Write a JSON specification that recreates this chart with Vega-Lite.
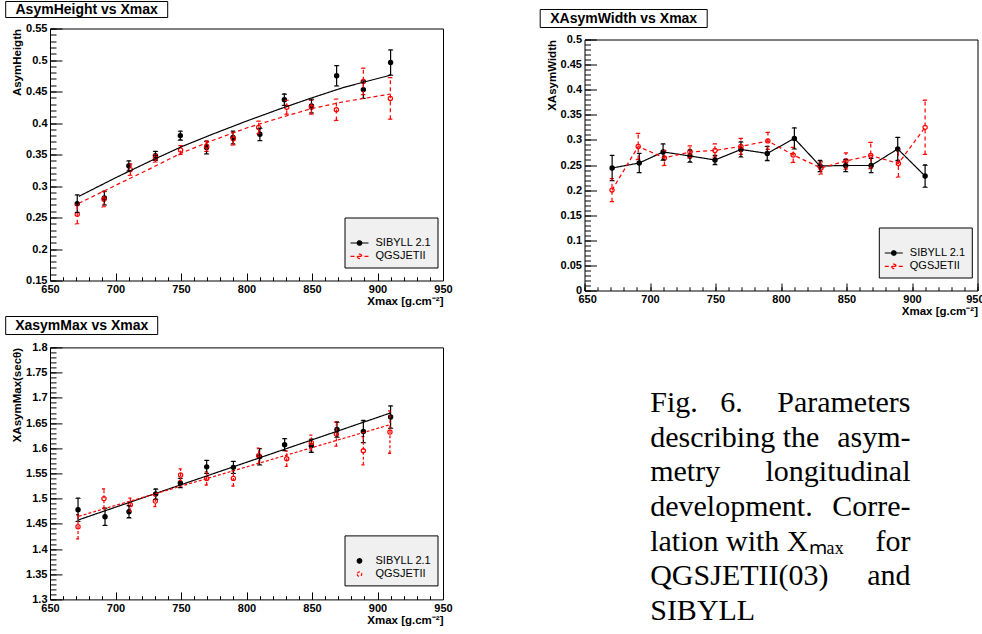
{
  "$schema": "https://vega.github.io/schema/vega-lite/v6.json",
  "background": "white",
  "padding": {"left": 5, "top": 0.5, "right": 0, "bottom": 0},
  "config": {
    "view": {"stroke": "black", "strokeWidth": 1},
    "axis": {"domain": false, "grid": false, "labelFont": "Liberation Sans", "labelFontSize": 11, "labelFontWeight": "bold", "labelColor": "black", "titleFont": "Liberation Sans", "titleFontSize": 11.5, "titleFontWeight": "bold", "titleColor": "black", "tickColor": "black", "tickWidth": 1, "labelOverlap": false, "labelFlush": false},
    "legend": {"fillColor": "#f0f0f0", "strokeColor": "black", "strokeWidth": 1, "padding": 6, "cornerRadius": 0, "titleFont": "Liberation Sans", "titleFontSize": 12, "titlePadding": 1.5, "labelFont": "Liberation Sans", "labelFontSize": 11, "labelColor": "black", "symbolSize": 100, "symbolStrokeWidth": 1.2, "symbolOffset": 3, "labelOffset": 10, "rowPadding": 2.3}
  },
  "datasets": {
    "p1pts": [
      {"xmax": 670.8, "model": "SIBYLL 2.1", "val": 0.272, "err": 0.014},
      {"xmax": 691.5, "model": "SIBYLL 2.1", "val": 0.281, "err": 0.011},
      {"xmax": 710.2, "model": "SIBYLL 2.1", "val": 0.332, "err": 0.008},
      {"xmax": 730.5, "model": "SIBYLL 2.1", "val": 0.348, "err": 0.007},
      {"xmax": 749.5, "model": "SIBYLL 2.1", "val": 0.380, "err": 0.007},
      {"xmax": 769.5, "model": "SIBYLL 2.1", "val": 0.361, "err": 0.010},
      {"xmax": 789.7, "model": "SIBYLL 2.1", "val": 0.377, "err": 0.010},
      {"xmax": 810.2, "model": "SIBYLL 2.1", "val": 0.382, "err": 0.010},
      {"xmax": 828.9, "model": "SIBYLL 2.1", "val": 0.437, "err": 0.009},
      {"xmax": 849.6, "model": "SIBYLL 2.1", "val": 0.427, "err": 0.011},
      {"xmax": 868.8, "model": "SIBYLL 2.1", "val": 0.475, "err": 0.016},
      {"xmax": 889.2, "model": "SIBYLL 2.1", "val": 0.453, "err": 0.014},
      {"xmax": 910.0, "model": "SIBYLL 2.1", "val": 0.496, "err": 0.020},
      {"xmax": 670.8, "model": "QGSJETII", "val": 0.255, "err": 0.015},
      {"xmax": 691.2, "model": "QGSJETII", "val": 0.279, "err": 0.012},
      {"xmax": 711.3, "model": "QGSJETII", "val": 0.326, "err": 0.009},
      {"xmax": 730.5, "model": "QGSJETII", "val": 0.344, "err": 0.006},
      {"xmax": 749.7, "model": "QGSJETII", "val": 0.357, "err": 0.007},
      {"xmax": 769.6, "model": "QGSJETII", "val": 0.363, "err": 0.008},
      {"xmax": 790.0, "model": "QGSJETII", "val": 0.375, "err": 0.010},
      {"xmax": 809.3, "model": "QGSJETII", "val": 0.393, "err": 0.010},
      {"xmax": 830.7, "model": "QGSJETII", "val": 0.425, "err": 0.011},
      {"xmax": 849.6, "model": "QGSJETII", "val": 0.425, "err": 0.011},
      {"xmax": 868.6, "model": "QGSJETII", "val": 0.421, "err": 0.017},
      {"xmax": 889.2, "model": "QGSJETII", "val": 0.466, "err": 0.021},
      {"xmax": 909.8, "model": "QGSJETII", "val": 0.439, "err": 0.033}
    ],
    "p1fit": [
      {"xmax": 672, "model": "SIBYLL 2.1", "fit": 0.2835},
      {"xmax": 700, "model": "SIBYLL 2.1", "fit": 0.313},
      {"xmax": 725, "model": "SIBYLL 2.1", "fit": 0.338},
      {"xmax": 750, "model": "SIBYLL 2.1", "fit": 0.362},
      {"xmax": 775, "model": "SIBYLL 2.1", "fit": 0.383},
      {"xmax": 800, "model": "SIBYLL 2.1", "fit": 0.403},
      {"xmax": 825, "model": "SIBYLL 2.1", "fit": 0.422},
      {"xmax": 850, "model": "SIBYLL 2.1", "fit": 0.440},
      {"xmax": 875, "model": "SIBYLL 2.1", "fit": 0.457},
      {"xmax": 910, "model": "SIBYLL 2.1", "fit": 0.476},
      {"xmax": 672, "model": "QGSJETII", "fit": 0.2725},
      {"xmax": 700, "model": "QGSJETII", "fit": 0.301},
      {"xmax": 725, "model": "QGSJETII", "fit": 0.326},
      {"xmax": 750, "model": "QGSJETII", "fit": 0.352},
      {"xmax": 775, "model": "QGSJETII", "fit": 0.373},
      {"xmax": 800, "model": "QGSJETII", "fit": 0.392},
      {"xmax": 825, "model": "QGSJETII", "fit": 0.408},
      {"xmax": 850, "model": "QGSJETII", "fit": 0.423},
      {"xmax": 875, "model": "QGSJETII", "fit": 0.434},
      {"xmax": 910, "model": "QGSJETII", "fit": 0.446}
    ],
    "p2pts": [
      {"xmax": 671.1, "model": "SIBYLL 2.1", "val": 0.244, "err": 0.025},
      {"xmax": 691.8, "model": "SIBYLL 2.1", "val": 0.254, "err": 0.019},
      {"xmax": 710.0, "model": "SIBYLL 2.1", "val": 0.276, "err": 0.016},
      {"xmax": 730.5, "model": "SIBYLL 2.1", "val": 0.268, "err": 0.012},
      {"xmax": 749.6, "model": "SIBYLL 2.1", "val": 0.260, "err": 0.009},
      {"xmax": 769.4, "model": "SIBYLL 2.1", "val": 0.281, "err": 0.015},
      {"xmax": 789.5, "model": "SIBYLL 2.1", "val": 0.273, "err": 0.014},
      {"xmax": 810.2, "model": "SIBYLL 2.1", "val": 0.303, "err": 0.021},
      {"xmax": 829.8, "model": "SIBYLL 2.1", "val": 0.248, "err": 0.011},
      {"xmax": 849.4, "model": "SIBYLL 2.1", "val": 0.249, "err": 0.012},
      {"xmax": 868.8, "model": "SIBYLL 2.1", "val": 0.249, "err": 0.014},
      {"xmax": 889.1, "model": "SIBYLL 2.1", "val": 0.282, "err": 0.023},
      {"xmax": 910.0, "model": "SIBYLL 2.1", "val": 0.228, "err": 0.022},
      {"xmax": 671.0, "model": "QGSJETII", "val": 0.200, "err": 0.023},
      {"xmax": 691.0, "model": "QGSJETII", "val": 0.287, "err": 0.026},
      {"xmax": 711.0, "model": "QGSJETII", "val": 0.264, "err": 0.015},
      {"xmax": 730.5, "model": "QGSJETII", "val": 0.276, "err": 0.012},
      {"xmax": 749.6, "model": "QGSJETII", "val": 0.279, "err": 0.013},
      {"xmax": 769.4, "model": "QGSJETII", "val": 0.287, "err": 0.016},
      {"xmax": 790.0, "model": "QGSJETII", "val": 0.298, "err": 0.017},
      {"xmax": 809.3, "model": "QGSJETII", "val": 0.270, "err": 0.015},
      {"xmax": 830.5, "model": "QGSJETII", "val": 0.244, "err": 0.012},
      {"xmax": 849.6, "model": "QGSJETII", "val": 0.258, "err": 0.016},
      {"xmax": 868.5, "model": "QGSJETII", "val": 0.269, "err": 0.026},
      {"xmax": 889.6, "model": "QGSJETII", "val": 0.253, "err": 0.027},
      {"xmax": 910.0, "model": "QGSJETII", "val": 0.325, "err": 0.054}
    ],
    "p3pts": [
      {"xmax": 671.4, "model": "SIBYLL 2.1", "val": 1.478, "err": 0.023},
      {"xmax": 692.0, "model": "SIBYLL 2.1", "val": 1.464, "err": 0.017},
      {"xmax": 710.3, "model": "SIBYLL 2.1", "val": 1.474, "err": 0.012},
      {"xmax": 730.7, "model": "SIBYLL 2.1", "val": 1.509, "err": 0.010},
      {"xmax": 749.5, "model": "SIBYLL 2.1", "val": 1.531, "err": 0.009},
      {"xmax": 769.6, "model": "SIBYLL 2.1", "val": 1.563, "err": 0.013},
      {"xmax": 790.0, "model": "SIBYLL 2.1", "val": 1.562, "err": 0.012},
      {"xmax": 810.0, "model": "SIBYLL 2.1", "val": 1.583, "err": 0.016},
      {"xmax": 829.1, "model": "SIBYLL 2.1", "val": 1.607, "err": 0.012},
      {"xmax": 849.5, "model": "SIBYLL 2.1", "val": 1.605, "err": 0.013},
      {"xmax": 869.1, "model": "SIBYLL 2.1", "val": 1.637, "err": 0.015},
      {"xmax": 889.2, "model": "SIBYLL 2.1", "val": 1.633, "err": 0.022},
      {"xmax": 910.0, "model": "SIBYLL 2.1", "val": 1.662, "err": 0.022},
      {"xmax": 671.4, "model": "QGSJETII", "val": 1.444, "err": 0.024},
      {"xmax": 691.2, "model": "QGSJETII", "val": 1.500, "err": 0.019},
      {"xmax": 711.3, "model": "QGSJETII", "val": 1.488, "err": 0.013},
      {"xmax": 730.4, "model": "QGSJETII", "val": 1.495, "err": 0.011},
      {"xmax": 749.7, "model": "QGSJETII", "val": 1.547, "err": 0.012},
      {"xmax": 769.6, "model": "QGSJETII", "val": 1.540, "err": 0.013},
      {"xmax": 790.0, "model": "QGSJETII", "val": 1.540, "err": 0.015},
      {"xmax": 809.3, "model": "QGSJETII", "val": 1.585, "err": 0.015},
      {"xmax": 830.7, "model": "QGSJETII", "val": 1.579, "err": 0.015},
      {"xmax": 849.5, "model": "QGSJETII", "val": 1.611, "err": 0.015},
      {"xmax": 868.6, "model": "QGSJETII", "val": 1.628, "err": 0.024},
      {"xmax": 889.2, "model": "QGSJETII", "val": 1.595, "err": 0.028},
      {"xmax": 909.5, "model": "QGSJETII", "val": 1.632, "err": 0.042}
    ],
    "p3fit": [
      {"xmax": 672, "model": "SIBYLL 2.1", "fit": 1.458},
      {"xmax": 910, "model": "SIBYLL 2.1", "fit": 1.670},
      {"xmax": 672, "model": "QGSJETII", "fit": 1.465},
      {"xmax": 910, "model": "QGSJETII", "fit": 1.647}
    ],
    "caption": [
      {"line": 1, "left": "Fig.\u00a0\u00a0\u00a06.", "right": "Parameters"},
      {"line": 2, "left": "describing the", "right": "asym-"},
      {"line": 3, "left": "metry", "right": "longitudinal"},
      {"line": 4, "left": "development.", "right": "Corre-"},
      {"line": 5, "left": "lation with Xₘₐₓ", "right": "for"},
      {"line": 6, "left": "QGSJETII(03)", "right": "and"},
      {"line": 7, "left": "SIBYLL", "right": ""}
    ]
  },
  "spacing": 86.5,
  "align": "each",
  "resolve": {"scale": {"x": "independent", "y": "independent", "stroke": "independent", "fill": "independent", "strokeDash": "independent"}, "legend": {"stroke": "independent", "fill": "independent", "strokeDash": "independent"}},
  "hconcat": [
    {
      "spacing": 8,
      "resolve": {"scale": {"x": "independent", "y": "independent", "stroke": "independent", "fill": "independent", "strokeDash": "independent"}, "legend": {"stroke": "independent", "fill": "independent", "strokeDash": "independent"}},
      "vconcat": [
        {
          "spacing": 3,
          "resolve": {"scale": {"x": "independent", "y": "independent", "stroke": "independent", "fill": "independent", "strokeDash": "independent"}, "legend": {"stroke": "independent", "fill": "independent", "strokeDash": "independent"}},
          "vconcat": [
            {
              "width": 117.7, "height": 16,
              "view": {"stroke": null},
              "data": {"values": [{"t": "AsymHeight vs Xmax"}]},
              "layer": [
                {
                  "mark": {"type": "rect", "fill": "white", "stroke": "black", "strokeWidth": 1},
                  "encoding": {
                    "x": {"datum": 0, "type": "quantitative", "scale": {"domain": [0, 1], "range": [-44.3, 117.7], "nice": false, "zero": false}, "axis": null},
                    "x2": {"datum": 1},
                    "y": {"datum": 0, "type": "quantitative", "scale": {"domain": [0, 1], "nice": false, "zero": false}, "axis": null},
                    "y2": {"datum": 1}
                  }
                },
                {
                  "mark": {"type": "text", "font": "Liberation Sans", "fontWeight": "bold", "fontSize": 14, "color": "black"},
                  "encoding": {
                    "x": {"datum": 0.5, "type": "quantitative"},
                    "y": {"datum": 0.5, "type": "quantitative"},
                    "text": {"field": "t"}
                  }
                }
              ]
            },
            {
              "width": 393, "height": 252,
              "resolve": {"axis": {"x": "independent", "y": "independent"}},
              "layer": [
                {
                  "data": {"name": "p1pts"},
                  "mark": {"type": "point", "shape": "circle", "filled": false, "size": 18, "strokeWidth": 1.2, "opacity": 1},
                  "encoding": {
                    "x": {"field": "xmax", "type": "quantitative", "scale": {"domain": [650, 950], "nice": false, "zero": false}, "axis": {"orient": "bottom", "values": [650, 700, 750, 800, 850, 900, 950], "ticks": false, "tickSize": 0, "labelPadding": 3, "title": "Xmax [g.cm⁻²]", "titleAnchor": "end", "titlePadding": 1}},
                    "y": {"field": "val", "type": "quantitative", "scale": {"domain": [0.15, 0.55], "nice": false, "zero": false}, "axis": {"orient": "left", "values": [0.15, 0.2, 0.25, 0.3, 0.35, 0.4, 0.45, 0.5, 0.55], "format": "~g", "ticks": false, "tickSize": 0, "labelPadding": 3, "title": "AsymHeigth", "titleAnchor": "end", "titlePadding": 3}},
                    "stroke": {"field": "model", "type": "nominal", "title": " ", "scale": {"domain": ["SIBYLL 2.1", "QGSJETII"], "range": ["black", "red"]}, "legend": {"orient": "none", "legendX": 294.5, "legendY": 189, "symbolType": "M-1.8,0L1.8,0M-0.45,0A0.45,0.45,0,1,0,0.45,0A0.45,0.45,0,1,0,-0.45,0Z"}},
                    "fill": {"field": "model", "type": "nominal", "title": " ", "scale": {"domain": ["SIBYLL 2.1", "QGSJETII"], "range": ["black", "transparent"]}, "legend": {"orient": "none", "legendX": 294.5, "legendY": 189, "symbolType": "M-1.8,0L1.8,0M-0.45,0A0.45,0.45,0,1,0,0.45,0A0.45,0.45,0,1,0,-0.45,0Z"}}
                  }
                },
                {
                  "data": {"name": "p1pts"},
                  "mark": {"type": "errorbar", "thickness": 1.2, "ticks": {"size": 4, "thickness": 0.1, "filled": false, "strokeWidth": 1.2, "opacity": 1}},
                  "encoding": {
                    "x": {"field": "xmax", "type": "quantitative", "scale": {"domain": [650, 950], "nice": false, "zero": false}, "axis": {"orient": "bottom", "values": [650, 660, 670, 680, 690, 700, 710, 720, 730, 740, 750, 760, 770, 780, 790, 800, 810, 820, 830, 840, 850, 860, 870, 880, 890, 900, 910, 920, 930, 940, 950], "labels": false, "tickSize": -3.75, "title": null}},
                    "y": {"field": "val", "type": "quantitative", "scale": {"domain": [0.15, 0.55], "nice": false, "zero": false}, "axis": {"orient": "left", "values": [0.15, 0.16, 0.17, 0.18, 0.19, 0.2, 0.21, 0.22, 0.23, 0.24, 0.25, 0.26, 0.27, 0.28, 0.29, 0.3, 0.31, 0.32, 0.33, 0.34, 0.35, 0.36, 0.37, 0.38, 0.39, 0.4, 0.41, 0.42, 0.43, 0.44, 0.45, 0.46, 0.47, 0.48, 0.49, 0.5, 0.51, 0.52, 0.53, 0.54, 0.55], "labels": false, "tickSize": -6, "title": null}},
                    "yError": {"field": "err"},
                    "stroke": {"field": "model", "type": "nominal", "title": " ", "scale": {"domain": ["SIBYLL 2.1", "QGSJETII"], "range": ["black", "red"]}, "legend": {"orient": "none", "legendX": 294.5, "legendY": 189, "symbolType": "M-1.8,0L1.8,0M-0.45,0A0.45,0.45,0,1,0,0.45,0A0.45,0.45,0,1,0,-0.45,0Z"}},
                    "strokeDash": {"field": "model", "type": "nominal", "title": " ", "scale": {"domain": ["SIBYLL 2.1", "QGSJETII"], "range": [[1, 0], [4, 3]]}, "legend": {"orient": "none", "legendX": 294.5, "legendY": 189, "symbolType": "M-1.8,0L1.8,0M-0.45,0A0.45,0.45,0,1,0,0.45,0A0.45,0.45,0,1,0,-0.45,0Z"}}
                  }
                },
                {
                  "data": {"name": "p1fit"},
                  "mark": {"type": "line", "strokeWidth": 1.2},
                  "encoding": {
                    "x": {"field": "xmax", "type": "quantitative", "scale": {"domain": [650, 950], "nice": false, "zero": false}, "axis": {"orient": "bottom", "values": [650, 700, 750, 800, 850, 900, 950], "labels": false, "tickSize": -7.5, "title": null}},
                    "y": {"field": "fit", "type": "quantitative", "scale": {"domain": [0.15, 0.55], "nice": false, "zero": false}, "axis": {"orient": "left", "values": [0.15, 0.2, 0.25, 0.3, 0.35, 0.4, 0.45, 0.5, 0.55], "labels": false, "tickSize": -12, "title": null}},
                    "stroke": {"field": "model", "type": "nominal", "title": " ", "scale": {"domain": ["SIBYLL 2.1", "QGSJETII"], "range": ["black", "red"]}, "legend": {"orient": "none", "legendX": 294.5, "legendY": 189, "symbolType": "M-1.8,0L1.8,0M-0.45,0A0.45,0.45,0,1,0,0.45,0A0.45,0.45,0,1,0,-0.45,0Z"}},
                    "strokeDash": {"field": "model", "type": "nominal", "title": " ", "scale": {"domain": ["SIBYLL 2.1", "QGSJETII"], "range": [[1, 0], [4, 3]]}, "legend": {"orient": "none", "legendX": 294.5, "legendY": 189, "symbolType": "M-1.8,0L1.8,0M-0.45,0A0.45,0.45,0,1,0,0.45,0A0.45,0.45,0,1,0,-0.45,0Z"}}
                  }
                }
              ]
            }
          ]
        },
        {
          "spacing": 4.9,
          "resolve": {"scale": {"x": "independent", "y": "independent", "stroke": "independent", "fill": "independent", "strokeDash": "independent"}, "legend": {"stroke": "independent", "fill": "independent", "strokeDash": "independent"}},
          "vconcat": [
            {
              "width": 107.7, "height": 18,
              "view": {"stroke": null},
              "data": {"values": [{"t": "XasymMax vs Xmax"}]},
              "layer": [
                {
                  "mark": {"type": "rect", "fill": "white", "stroke": "black", "strokeWidth": 1},
                  "encoding": {
                    "x": {"datum": 0, "type": "quantitative", "scale": {"domain": [0, 1], "range": [-44.3, 107.7], "nice": false, "zero": false}, "axis": null},
                    "x2": {"datum": 1},
                    "y": {"datum": 0, "type": "quantitative", "scale": {"domain": [0, 1], "nice": false, "zero": false}, "axis": null},
                    "y2": {"datum": 1}
                  }
                },
                {
                  "mark": {"type": "text", "font": "Liberation Sans", "fontWeight": "bold", "fontSize": 14, "color": "black"},
                  "encoding": {
                    "x": {"datum": 0.5, "type": "quantitative"},
                    "y": {"datum": 0.5, "type": "quantitative"},
                    "text": {"field": "t"}
                  }
                }
              ]
            },
            {
              "width": 393, "height": 252,
              "resolve": {"axis": {"x": "independent", "y": "independent"}},
              "layer": [
                {
                  "data": {"name": "p3pts"},
                  "mark": {"type": "point", "shape": "circle", "filled": false, "size": 18, "strokeWidth": 1.2, "opacity": 1},
                  "encoding": {
                    "x": {"field": "xmax", "type": "quantitative", "scale": {"domain": [650, 950], "nice": false, "zero": false}, "axis": {"orient": "bottom", "values": [650, 700, 750, 800, 850, 900, 950], "ticks": false, "tickSize": 0, "labelPadding": 3, "title": "Xmax [g.cm⁻²]", "titleAnchor": "end", "titlePadding": 1}},
                    "y": {"field": "val", "type": "quantitative", "scale": {"domain": [1.3, 1.8], "nice": false, "zero": false}, "axis": {"orient": "left", "values": [1.3, 1.35, 1.4, 1.45, 1.5, 1.55, 1.6, 1.65, 1.7, 1.75, 1.8], "format": "~g", "ticks": false, "tickSize": 0, "labelPadding": 3, "title": "XAsymMax(secθ)", "titleAnchor": "end", "titlePadding": 3}},
                    "stroke": {"field": "model", "type": "nominal", "title": " ", "scale": {"domain": ["SIBYLL 2.1", "QGSJETII"], "range": ["black", "red"]}, "legend": {"orient": "none", "legendX": 294.5, "legendY": 188, "symbolType": "M-0.45,0A0.45,0.45,0,1,0,0.45,0A0.45,0.45,0,1,0,-0.45,0Z"}},
                    "fill": {"field": "model", "type": "nominal", "title": " ", "scale": {"domain": ["SIBYLL 2.1", "QGSJETII"], "range": ["black", "transparent"]}, "legend": {"orient": "none", "legendX": 294.5, "legendY": 188, "symbolType": "M-0.45,0A0.45,0.45,0,1,0,0.45,0A0.45,0.45,0,1,0,-0.45,0Z"}}
                  }
                },
                {
                  "data": {"name": "p3pts"},
                  "mark": {"type": "errorbar", "thickness": 1.2, "ticks": {"size": 4, "thickness": 0.1, "filled": false, "strokeWidth": 1.2, "opacity": 1}},
                  "encoding": {
                    "x": {"field": "xmax", "type": "quantitative", "scale": {"domain": [650, 950], "nice": false, "zero": false}, "axis": {"orient": "bottom", "values": [650, 660, 670, 680, 690, 700, 710, 720, 730, 740, 750, 760, 770, 780, 790, 800, 810, 820, 830, 840, 850, 860, 870, 880, 890, 900, 910, 920, 930, 940, 950], "labels": false, "tickSize": -3.75, "title": null}},
                    "y": {"field": "val", "type": "quantitative", "scale": {"domain": [1.3, 1.8], "nice": false, "zero": false}, "axis": {"orient": "left", "values": [1.3, 1.31, 1.32, 1.33, 1.34, 1.35, 1.36, 1.37, 1.38, 1.39, 1.4, 1.41, 1.42, 1.43, 1.44, 1.45, 1.46, 1.47, 1.48, 1.49, 1.5, 1.51, 1.52, 1.53, 1.54, 1.55, 1.56, 1.57, 1.58, 1.59, 1.6, 1.61, 1.62, 1.63, 1.64, 1.65, 1.66, 1.67, 1.68, 1.69, 1.7, 1.71, 1.72, 1.73, 1.74, 1.75, 1.76, 1.77, 1.78, 1.79, 1.8], "labels": false, "tickSize": -6, "title": null}},
                    "yError": {"field": "err"},
                    "stroke": {"field": "model", "type": "nominal", "title": " ", "scale": {"domain": ["SIBYLL 2.1", "QGSJETII"], "range": ["black", "red"]}, "legend": {"orient": "none", "legendX": 294.5, "legendY": 188, "symbolType": "M-0.45,0A0.45,0.45,0,1,0,0.45,0A0.45,0.45,0,1,0,-0.45,0Z"}},
                    "strokeDash": {"field": "model", "type": "nominal", "scale": {"domain": ["SIBYLL 2.1", "QGSJETII"], "range": [[1, 0], [3, 2]]}, "legend": null}
                  }
                },
                {
                  "data": {"name": "p3fit"},
                  "mark": {"type": "line", "strokeWidth": 1.2},
                  "encoding": {
                    "x": {"field": "xmax", "type": "quantitative", "scale": {"domain": [650, 950], "nice": false, "zero": false}, "axis": {"orient": "bottom", "values": [650, 700, 750, 800, 850, 900, 950], "labels": false, "tickSize": -7.5, "title": null}},
                    "y": {"field": "fit", "type": "quantitative", "scale": {"domain": [1.3, 1.8], "nice": false, "zero": false}, "axis": {"orient": "left", "values": [1.3, 1.35, 1.4, 1.45, 1.5, 1.55, 1.6, 1.65, 1.7, 1.75, 1.8], "labels": false, "tickSize": -12, "title": null}},
                    "stroke": {"field": "model", "type": "nominal", "title": " ", "scale": {"domain": ["SIBYLL 2.1", "QGSJETII"], "range": ["black", "red"]}, "legend": {"orient": "none", "legendX": 294.5, "legendY": 188, "symbolType": "M-0.45,0A0.45,0.45,0,1,0,0.45,0A0.45,0.45,0,1,0,-0.45,0Z"}},
                    "strokeDash": {"field": "model", "type": "nominal", "scale": {"domain": ["SIBYLL 2.1", "QGSJETII"], "range": [[1, 0], [3, 2]]}, "legend": null}
                  }
                }
              ]
            }
          ]
        }
      ]
    },
    {
      "spacing": 68,
      "resolve": {"scale": {"x": "independent", "y": "independent", "stroke": "independent", "fill": "independent", "strokeDash": "independent"}, "legend": {"stroke": "independent", "fill": "independent", "strokeDash": "independent"}},
      "vconcat": [
        {
          "spacing": 4,
          "resolve": {"scale": {"x": "independent", "y": "independent", "stroke": "independent", "fill": "independent", "strokeDash": "independent"}, "legend": {"stroke": "independent", "fill": "independent", "strokeDash": "independent"}},
          "vconcat": [
            {
              "width": 20, "height": 2.5,
              "view": {"stroke": null},
              "data": {"values": []},
              "mark": {"type": "text"},
              "encoding": {"text": {"field": "t"}}
            },
            {
              "width": 122.7, "height": 18,
              "view": {"stroke": null},
              "data": {"values": [{"t": "XAsymWidth vs Xmax"}]},
              "layer": [
                {
                  "mark": {"type": "rect", "fill": "white", "stroke": "black", "strokeWidth": 1},
                  "encoding": {
                    "x": {"datum": 0, "type": "quantitative", "scale": {"domain": [0, 1], "range": [-44.3, 122.7], "nice": false, "zero": false}, "axis": null},
                    "x2": {"datum": 1},
                    "y": {"datum": 0, "type": "quantitative", "scale": {"domain": [0, 1], "nice": false, "zero": false}, "axis": null},
                    "y2": {"datum": 1}
                  }
                },
                {
                  "mark": {"type": "text", "font": "Liberation Sans", "fontWeight": "bold", "fontSize": 14, "color": "black"},
                  "encoding": {
                    "x": {"datum": 0.5, "type": "quantitative"},
                    "y": {"datum": 0.5, "type": "quantitative"},
                    "text": {"field": "t"}
                  }
                }
              ]
            },
            {
              "width": 393, "height": 251,
              "resolve": {"axis": {"x": "independent", "y": "independent"}},
              "layer": [
                {
                  "data": {"name": "p2pts"},
                  "mark": {"type": "point", "shape": "circle", "filled": false, "size": 18, "strokeWidth": 1.2, "opacity": 1},
                  "encoding": {
                    "x": {"field": "xmax", "type": "quantitative", "scale": {"domain": [650, 950], "nice": false, "zero": false}, "axis": {"orient": "bottom", "values": [650, 700, 750, 800, 850, 900, 950], "ticks": false, "tickSize": 0, "labelPadding": 3, "labelFlush": true, "labelFlushOffset": 6.5, "title": "Xmax [g.cm⁻²]", "titleAnchor": "end", "titlePadding": 1}},
                    "y": {"field": "val", "type": "quantitative", "scale": {"domain": [0, 0.5], "nice": false, "zero": false}, "axis": {"orient": "left", "values": [0, 0.05, 0.1, 0.15, 0.2, 0.25, 0.3, 0.35, 0.4, 0.45, 0.5], "format": "~g", "ticks": false, "tickSize": 0, "labelPadding": 3, "title": "XAsymWidth", "titleAnchor": "end", "titlePadding": 3}},
                    "stroke": {"field": "model", "type": "nominal", "title": " ", "scale": {"domain": ["SIBYLL 2.1", "QGSJETII"], "range": ["black", "red"]}, "legend": {"orient": "none", "legendX": 294.3, "legendY": 188, "symbolType": "M-1.8,0L1.8,0M-0.45,0A0.45,0.45,0,1,0,0.45,0A0.45,0.45,0,1,0,-0.45,0Z"}},
                    "fill": {"field": "model", "type": "nominal", "title": " ", "scale": {"domain": ["SIBYLL 2.1", "QGSJETII"], "range": ["black", "transparent"]}, "legend": {"orient": "none", "legendX": 294.3, "legendY": 188, "symbolType": "M-1.8,0L1.8,0M-0.45,0A0.45,0.45,0,1,0,0.45,0A0.45,0.45,0,1,0,-0.45,0Z"}}
                  }
                },
                {
                  "data": {"name": "p2pts"},
                  "mark": {"type": "errorbar", "thickness": 1.2, "ticks": {"size": 4, "thickness": 0.1, "filled": false, "strokeWidth": 1.2, "opacity": 1}},
                  "encoding": {
                    "x": {"field": "xmax", "type": "quantitative", "scale": {"domain": [650, 950], "nice": false, "zero": false}, "axis": {"orient": "bottom", "values": [650, 660, 670, 680, 690, 700, 710, 720, 730, 740, 750, 760, 770, 780, 790, 800, 810, 820, 830, 840, 850, 860, 870, 880, 890, 900, 910, 920, 930, 940, 950], "labels": false, "tickSize": -3.75, "title": null}},
                    "y": {"field": "val", "type": "quantitative", "scale": {"domain": [0, 0.5], "nice": false, "zero": false}, "axis": {"orient": "left", "values": [0, 0.01, 0.02, 0.03, 0.04, 0.05, 0.06, 0.07, 0.08, 0.09, 0.1, 0.11, 0.12, 0.13, 0.14, 0.15, 0.16, 0.17, 0.18, 0.19, 0.2, 0.21, 0.22, 0.23, 0.24, 0.25, 0.26, 0.27, 0.28, 0.29, 0.3, 0.31, 0.32, 0.33, 0.34, 0.35, 0.36, 0.37, 0.38, 0.39, 0.4, 0.41, 0.42, 0.43, 0.44, 0.45, 0.46, 0.47, 0.48, 0.49, 0.5], "labels": false, "tickSize": -6, "title": null}},
                    "yError": {"field": "err"},
                    "stroke": {"field": "model", "type": "nominal", "title": " ", "scale": {"domain": ["SIBYLL 2.1", "QGSJETII"], "range": ["black", "red"]}, "legend": {"orient": "none", "legendX": 294.3, "legendY": 188, "symbolType": "M-1.8,0L1.8,0M-0.45,0A0.45,0.45,0,1,0,0.45,0A0.45,0.45,0,1,0,-0.45,0Z"}},
                    "strokeDash": {"field": "model", "type": "nominal", "title": " ", "scale": {"domain": ["SIBYLL 2.1", "QGSJETII"], "range": [[1, 0], [4, 3]]}, "legend": {"orient": "none", "legendX": 294.3, "legendY": 188, "symbolType": "M-1.8,0L1.8,0M-0.45,0A0.45,0.45,0,1,0,0.45,0A0.45,0.45,0,1,0,-0.45,0Z"}}
                  }
                },
                {
                  "data": {"name": "p2pts"},
                  "mark": {"type": "line", "strokeWidth": 1.2},
                  "encoding": {
                    "x": {"field": "xmax", "type": "quantitative", "scale": {"domain": [650, 950], "nice": false, "zero": false}, "axis": {"orient": "bottom", "values": [650, 700, 750, 800, 850, 900, 950], "labels": false, "tickSize": -7.5, "title": null}},
                    "y": {"field": "val", "type": "quantitative", "scale": {"domain": [0, 0.5], "nice": false, "zero": false}, "axis": {"orient": "left", "values": [0, 0.05, 0.1, 0.15, 0.2, 0.25, 0.3, 0.35, 0.4, 0.45, 0.5], "labels": false, "tickSize": -12, "title": null}},
                    "stroke": {"field": "model", "type": "nominal", "title": " ", "scale": {"domain": ["SIBYLL 2.1", "QGSJETII"], "range": ["black", "red"]}, "legend": {"orient": "none", "legendX": 294.3, "legendY": 188, "symbolType": "M-1.8,0L1.8,0M-0.45,0A0.45,0.45,0,1,0,0.45,0A0.45,0.45,0,1,0,-0.45,0Z"}},
                    "strokeDash": {"field": "model", "type": "nominal", "title": " ", "scale": {"domain": ["SIBYLL 2.1", "QGSJETII"], "range": [[1, 0], [4, 3]]}, "legend": {"orient": "none", "legendX": 294.3, "legendY": 188, "symbolType": "M-1.8,0L1.8,0M-0.45,0A0.45,0.45,0,1,0,0.45,0A0.45,0.45,0,1,0,-0.45,0Z"}}
                  }
                }
              ]
            }
          ]
        },
        {
          "width": 326, "height": 243,
          "view": {"stroke": null},
          "data": {"name": "caption"},
          "layer": [
            {
              "mark": {"type": "text", "font": "Liberation Serif", "fontSize": 30, "align": "left", "baseline": "middle", "color": "black"},
              "encoding": {
                "x": {"datum": 0, "type": "quantitative", "scale": {"domain": [-0.2524, 1]}, "axis": null},
                "y": {"field": "line", "type": "quantitative", "scale": {"domain": [0.5, 7.5], "reverse": true}, "axis": null},
                "text": {"field": "left"}
              }
            },
            {
              "mark": {"type": "text", "font": "Liberation Serif", "fontSize": 30, "align": "right", "baseline": "middle", "color": "black"},
              "encoding": {
                "x": {"datum": 1, "type": "quantitative", "scale": {"domain": [-0.2524, 1]}, "axis": null},
                "y": {"field": "line", "type": "quantitative", "scale": {"domain": [0.5, 7.5], "reverse": true}, "axis": null},
                "text": {"field": "right"}
              }
            }
          ]
        }
      ]
    }
  ]
}
